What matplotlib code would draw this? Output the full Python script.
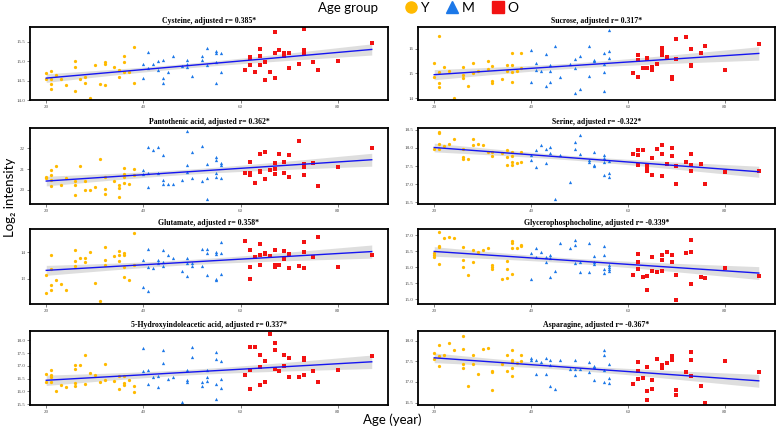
import matplotlib
matplotlib.use("Agg")
import matplotlib.pyplot as plt
from matplotlib.lines import Line2D
import numpy as np

# --- data: age and log2 intensity per metabolite ---
cys_age = [20, 20, 21, 21, 21, 21, 22, 23, 24, 26, 26, 26, 27, 28, 28, 29, 30, 31, 32, 32, 32, 34, 35, 35, 36, 36, 36, 37, 38, 38,
           40, 40, 41, 41, 42, 43, 43, 44, 44, 44, 45, 46, 48, 49, 49, 49, 50, 52, 52, 53, 53, 55, 55, 55, 55, 56, 56,
           61, 62, 62, 62, 63, 64, 64, 64, 65, 65, 66, 67, 67, 67, 68, 69, 69, 70, 70, 72, 73, 73, 73, 75, 76, 80, 87]
cys_val = [14.70, 14.53, 14.75, 14.53, 14.40, 14.28, 14.65, 14.55, 14.39, 15.00, 14.86, 14.24, 14.55, 14.60, 14.43, 14.06, 14.89, 14.42, 14.97, 14.92, 14.38, 14.85, 14.78, 14.60, 15.13, 14.97, 14.73, 14.73, 15.37, 14.43,
           14.92, 14.56, 15.24, 14.82, 14.92, 15.00, 14.78, 15.03, 14.56, 14.43, 14.73, 15.13, 14.87, 15.04, 14.93, 14.85, 14.61, 15.13, 15.04, 15.34, 14.89, 15.26, 15.21, 14.98, 14.43, 15.20, 14.73,
           14.78, 15.12, 15.07, 14.89, 14.73, 15.32, 15.14, 14.89, 14.99, 14.52, 14.73, 15.74, 15.20, 14.56, 15.29, 15.21, 15.14, 15.20, 14.83, 14.94, 15.82, 15.30, 15.20, 14.97, 14.78, 15.00, 15.47]

suc_age = [20, 20, 21, 21, 21, 21, 22, 23, 24, 26, 26, 26, 27, 28, 28, 29, 31, 31, 32, 32, 32, 34, 35, 35, 36, 36, 36, 36, 37, 38, 38,
           40, 40, 41, 41, 42, 43, 43, 44, 44, 44, 45, 46, 48, 49, 49, 49, 50, 50, 52, 52, 53, 53, 55, 55, 55, 55, 56, 56, 56,
           61, 62, 62, 62, 63, 64, 64, 64, 65, 65, 66, 67, 67, 67, 68, 69, 69, 70, 70, 72, 73, 73, 73, 75, 76, 80, 87]
suc_val = [15.43, 14.84, 16.49, 15.07, 14.60, 14.44, 15.24, 15.09, 14.03, 15.27, 14.95, 14.83, 14.49, 15.43, 15.00, 15.09, 15.49, 15.16, 15.31, 14.71, 14.60, 14.76, 15.33, 15.09, 15.84, 15.33, 15.07, 14.65, 15.09, 15.83, 15.20,
           15.96, 14.64, 15.44, 15.13, 15.09, 15.80, 14.51, 15.33, 15.11, 14.64, 16.12, 14.87, 15.37, 15.60, 15.20, 14.20, 15.71, 14.36, 16.12, 14.89, 15.56, 15.49, 15.83, 15.37, 15.04, 14.31, 16.76, 15.91, 15.64,
           15.00, 15.73, 15.56, 14.87, 15.20, 15.63, 15.57, 15.23, 15.27, 15.13, 15.36, 16.04, 15.91, 15.73, 15.67, 14.77, 14.84, 16.37, 15.60, 16.47, 16.00, 15.33, 15.29, 15.84, 16.09, 15.13, 16.20]

pan_age = [20, 20, 21, 21, 21, 21, 22, 23, 24, 26, 26, 26, 27, 28, 28, 29, 30, 31, 32, 32, 32, 34, 35, 35, 35, 36, 36, 36, 36, 37, 38, 38,
           40, 40, 41, 41, 41, 42, 43, 43, 44, 44, 44, 45, 46, 48, 49, 49, 49, 50, 50, 52, 52, 53, 53, 53, 55, 55, 55, 55, 56, 56, 56,
           61, 62, 62, 62, 63, 64, 64, 64, 65, 65, 66, 67, 67, 67, 68, 69, 69, 70, 70, 72, 73, 73, 73, 75, 76, 80, 87]
pan_val = [20.64, 20.56, 20.96, 20.72, 20.48, 20.19, 21.15, 20.24, 20.59, 20.40, 20.24, 19.73, 21.17, 20.40, 20.00, 20.00, 20.11, 21.49, 20.61, 20.05, 19.79, 20.43, 20.21, 20.08, 19.63, 21.07, 20.75, 20.64, 20.32, 20.30, 21.00, 20.72,
           20.96, 20.75, 22.05, 20.80, 20.11, 21.92, 22.05, 20.80, 21.68, 20.48, 20.27, 20.27, 20.27, 20.45, 22.83, 21.20, 20.88, 21.84, 20.56, 22.13, 20.40, 21.25, 20.59, 19.57, 21.60, 21.42, 20.80, 20.64, 21.28, 21.20, 20.56,
           20.80, 21.36, 20.80, 20.72, 20.35, 21.71, 20.93, 20.85, 21.84, 20.50, 20.96, 21.28, 21.00, 20.75, 21.74, 21.33, 20.83, 21.68, 20.62, 22.35, 21.23, 21.10, 20.72, 21.28, 20.16, 21.10, 22.00]

ser_age = [20, 21, 21, 21, 21, 22, 23, 24, 26, 26, 26, 27, 28, 28, 29, 30, 31, 32, 32, 34, 35, 35, 35, 36, 36, 36, 36, 37, 38, 38,
           40, 40, 41, 41, 42, 43, 43, 44, 44, 45, 46, 48, 49, 49, 50, 50, 52, 52, 53, 53, 53, 55, 55, 55, 55, 56, 56, 56,
           61, 62, 62, 62, 63, 64, 64, 64, 64, 65, 65, 66, 67, 67, 67, 68, 69, 69, 70, 70, 72, 73, 73, 73, 75, 76, 80, 87]
ser_val = [17.96, 18.45, 18.42, 18.10, 17.96, 18.05, 18.12, 18.25, 17.98, 17.74, 17.68, 17.68, 18.25, 18.07, 18.10, 18.07, 17.89, 17.89, 17.78, 17.86, 17.94, 17.74, 17.53, 17.89, 17.77, 17.62, 17.52, 17.59, 17.62, 17.89,
           17.80, 17.66, 17.95, 17.48, 18.09, 17.98, 17.57, 18.03, 17.87, 16.60, 17.80, 17.05, 18.15, 17.96, 18.36, 17.82, 17.66, 17.62, 17.89, 17.53, 17.50, 17.80, 17.71, 17.62, 17.25, 17.64, 17.30, 17.19,
           17.82, 17.95, 17.80, 17.53, 17.95, 17.50, 17.44, 17.37, 17.35, 17.71, 17.25, 17.98, 18.09, 17.82, 17.21, 17.55, 18.00, 17.78, 17.50, 17.00, 17.60, 17.82, 17.53, 17.37, 17.55, 17.00, 17.33, 17.35]

glu_age = [20, 20, 21, 21, 21, 21, 22, 23, 24, 26, 26, 26, 27, 28, 28, 29, 30, 31, 32, 32, 32, 34, 35, 35, 35, 36, 36, 36, 36, 37, 38, 38,
           40, 40, 41, 41, 41, 42, 43, 43, 44, 44, 44, 45, 46, 48, 49, 49, 49, 50, 50, 52, 52, 53, 53, 53, 55, 55, 55, 55, 56, 56, 56,
           61, 62, 62, 62, 63, 64, 64, 64, 65, 65, 66, 67, 67, 67, 68, 69, 69, 70, 70, 72, 73, 73, 73, 75, 76, 80, 87]
glu_val = [13.15, 12.46, 13.90, 13.38, 12.78, 12.59, 12.96, 12.81, 12.59, 14.09, 13.68, 13.50, 13.78, 13.80, 13.63, 14.00, 12.84, 12.18, 14.21, 13.71, 13.53, 13.84, 14.05, 13.88, 13.68, 13.96, 13.88, 13.46, 13.06, 12.96, 14.74, 13.53,
           13.71, 12.68, 14.11, 13.46, 12.55, 13.40, 13.71, 13.59, 14.09, 13.65, 13.49, 13.88, 13.80, 13.28, 13.78, 13.59, 13.11, 13.59, 13.50, 14.13, 13.50, 14.13, 13.96, 13.15, 14.00, 13.94, 12.96, 13.00, 14.38, 13.96, 13.18,
           14.43, 14.09, 13.46, 13.00, 13.81, 14.30, 13.90, 13.53, 13.96, 13.93, 13.84, 14.09, 13.53, 13.46, 13.53, 14.03, 13.75, 13.93, 13.40, 13.49, 14.38, 14.00, 13.40, 13.81, 14.56, 13.44, 13.90]

gpc_age = [20, 20, 20, 21, 21, 21, 21, 22, 23, 24, 26, 26, 26, 27, 28, 28, 29, 30, 31, 32, 32, 32, 34, 35, 35, 35, 36, 36, 36, 36, 37, 38, 38,
           40, 40, 41, 41, 42, 43, 43, 44, 44, 44, 45, 46, 48, 49, 49, 49, 50, 50, 52, 52, 53, 53, 53, 55, 55, 55, 55, 56, 56, 56, 56,
           61, 62, 62, 62, 63, 64, 64, 65, 65, 66, 67, 67, 67, 68, 69, 69, 70, 70, 72, 73, 73, 73, 75, 76, 80, 87]
gpc_val = [16.43, 16.38, 16.32, 17.10, 16.67, 16.64, 16.11, 16.90, 16.95, 16.91, 16.64, 16.22, 16.02, 15.76, 16.54, 16.17, 16.49, 16.54, 16.61, 16.06, 16.01, 15.96, 15.65, 16.20, 15.94, 15.66, 16.82, 16.77, 16.59, 15.78, 16.59, 16.69, 16.65,
           16.43, 15.65, 16.59, 16.32, 16.49, 16.32, 16.15, 16.39, 16.28, 15.71, 15.89, 16.74, 16.59, 16.85, 16.70, 16.13, 16.17, 15.86, 16.77, 15.85, 16.35, 16.18, 16.09, 16.65, 16.39, 15.96, 15.83, 16.06, 16.02, 15.96, 15.90,
           15.75, 16.41, 16.17, 15.94, 15.70, 15.73, 15.31, 16.32, 15.90, 15.86, 16.39, 16.22, 15.89, 16.46, 16.38, 16.15, 15.76, 14.98, 16.43, 16.84, 16.46, 15.47, 15.71, 15.66, 15.99, 15.73]

hia_age = [20, 20, 21, 21, 21, 21, 22, 23, 24, 26, 26, 26, 26, 27, 28, 28, 29, 30, 31, 32, 32, 34, 35, 35, 36, 36, 36, 37, 38, 38,
           40, 40, 41, 41, 42, 43, 43, 44, 44, 45, 46, 48, 49, 49, 49, 50, 50, 52, 52, 53, 53, 53, 55, 55, 55, 55, 56, 56, 56,
           61, 62, 62, 62, 63, 64, 64, 64, 65, 65, 66, 67, 67, 67, 68, 69, 69, 70, 70, 72, 73, 73, 73, 75, 76, 80, 87]
hia_val = [16.68, 16.37, 16.86, 16.66, 16.55, 16.37, 16.03, 16.24, 16.16, 17.05, 16.89, 16.33, 16.20, 17.03, 17.41, 16.30, 16.72, 16.66, 16.36, 17.09, 16.46, 16.42, 16.59, 16.08, 16.62, 16.33, 16.24, 16.46, 16.22, 15.97,
           17.71, 16.79, 16.83, 16.30, 16.57, 16.59, 16.17, 17.62, 17.12, 16.50, 16.57, 15.58, 16.86, 16.46, 16.37, 17.75, 17.36, 16.37, 16.22, 16.83, 16.55, 16.42, 17.54, 17.28, 16.29, 15.70, 17.18, 16.50, 16.13,
           16.66, 17.74, 16.86, 16.09, 17.74, 17.41, 16.95, 16.26, 17.18, 16.39, 18.26, 17.91, 17.62, 16.89, 16.79, 17.42, 17.01, 17.32, 16.57, 16.57, 17.32, 17.25, 16.66, 16.82, 16.37, 16.83, 17.38]

asn_age = [20, 20, 21, 21, 21, 22, 23, 24, 26, 26, 26, 26, 27, 28, 28, 29, 30, 31, 32, 32, 32, 34, 35, 35, 36, 36, 36, 36, 36, 37, 38, 38,
           40, 40, 41, 41, 42, 43, 43, 44, 44, 44, 45, 46, 48, 49, 49, 49, 50, 52, 52, 53, 53, 53, 55, 55, 55, 55, 56, 56, 56,
           61, 62, 62, 62, 63, 64, 64, 64, 65, 65, 66, 67, 67, 68, 69, 69, 70, 70, 72, 73, 73, 73, 75, 76, 80, 87]
asn_val = [17.70, 17.56, 17.90, 17.62, 17.39, 17.66, 17.94, 17.76, 18.11, 17.80, 17.43, 17.33, 16.89, 17.64, 17.42, 17.19, 17.80, 17.83, 17.26, 17.23, 16.80, 17.43, 17.65, 17.27, 17.76, 17.52, 17.48, 17.33, 17.13, 17.46, 17.66, 17.50,
           17.57, 17.53, 17.53, 17.20, 17.48, 17.58, 17.19, 17.54, 17.40, 16.90, 16.83, 17.54, 17.32, 17.53, 17.32, 17.17, 17.32, 17.48, 17.23, 17.39, 17.36, 17.05, 17.76, 17.65, 17.29, 17.00, 17.44, 17.09, 16.98,
           16.95, 17.48, 17.26, 17.06, 17.09, 17.36, 16.77, 16.57, 17.04, 16.83, 17.56, 17.40, 17.33, 17.45, 17.62, 17.52, 16.81, 16.68, 17.24, 17.72, 17.52, 17.13, 16.91, 16.50, 17.50, 17.24]

titles = ["Cysteine, adjusted r= 0.385*", "Sucrose, adjusted r= 0.317*",
          "Pantothenic acid, adjusted r= 0.362*", "Serine, adjusted r= -0.322*",
          "Glutamate, adjusted r= 0.358*", "Glycerophosphocholine, adjusted r= -0.339*",
          "5-Hydroxyindoleacetic acid, adjusted r= 0.337*", "Asparagine, adjusted r= -0.367*"]
ages = [cys_age, suc_age, pan_age, ser_age, glu_age, gpc_age, hia_age, asn_age]
vals = [cys_val, suc_val, pan_val, ser_val, glu_val, gpc_val, hia_val, asn_val]
yticks = [[14.0, 14.5, 15.0, 15.5], [14, 15, 16], [20, 21, 22], [16.5, 17.0, 17.5, 18.0, 18.5],
          [13, 14], [15.0, 15.5, 16.0, 16.5, 17.0], [15.5, 16.0, 16.5, 17.0, 17.5, 18.0], [16.5, 17.0, 17.5, 18.0]]
ytick_labels = [["14.0", "14.5", "15.0", "15.5"], ["14", "15", "16"], ["20", "21", "22"],
                ["16.5", "17.0", "17.5", "18.0", "18.5"], ["13", "14"],
                ["15.0", "15.5", "16.0", "16.5", "17.0"], ["15.5", "16.0", "16.5", "17.0", "17.5", "18.0"],
                ["16.5", "17.0", "17.5", "18.0"]]
ylims = [(14.0, 15.88), (13.93, 16.87), (19.31, 22.99), (16.45, 18.55),
         (12.05, 14.875), (14.86, 17.19), (15.47, 18.37), (16.44, 18.23)]
xticks = [20, 40, 60, 80]

groups = ["Y", "M", "O"]
group_colors = {"Y": "#FFBA00", "M": "#1C78E8", "O": "#F21212"}
group_markers = {"Y": "o", "M": "^", "O": "s"}


def age_group(a):
    if a < 40:
        return "Y"
    if a < 60:
        return "M"
    return "O"


W, H = 777, 430
fig = plt.figure(figsize=(W / 100, H / 100), dpi=100)

col_x = [30, 418]
col_w = [358, 357]
row_y = [(27, 100), (128, 204), (229, 304), (331, 405)]

for i in range(8):
    r, c = i // 2, i % 2
    top, bot = row_y[r]
    ax = fig.add_axes([col_x[c] / W, 1 - bot / H, col_w[c] / W, (bot - top) / H])
    x = np.array(ages[i], dtype=float)
    y = np.array(vals[i], dtype=float)

    # linear fit with 95% confidence band
    b1, b0 = np.polyfit(x, y, 1)
    n = len(x)
    resid = y - (b0 + b1 * x)
    s = np.sqrt(np.sum(resid ** 2) / (n - 2))
    xs = np.linspace(x.min(), x.max(), 80)
    se = s * np.sqrt(1 / n + (xs - x.mean()) ** 2 / np.sum((x - x.mean()) ** 2))
    fit = b0 + b1 * xs
    ax.fill_between(xs, fit - 1.99 * se, fit + 1.99 * se, color="#BEBEBE", alpha=0.5, lw=0, zorder=1)

    g = np.array([age_group(a) for a in x])
    for k in groups:
        m = g == k
        ax.scatter(x[m], y[m], s=5.5, marker=group_markers[k], color=group_colors[k], lw=0, zorder=2)
    ax.plot(xs, fit, color="#1515F0", lw=1.0, zorder=3)

    ax.set_xlim(16.65, 90.35)
    ax.set_ylim(*ylims[i])
    ax.set_xticks(xticks)
    ax.set_yticks(yticks[i])
    ax.set_yticklabels(ytick_labels[i])
    ax.tick_params(labelsize=3.6, colors="#4D4D4D", length=2, width=0.5, pad=1.5,
                   labelfontfamily="Liberation Serif")
    for sp in ax.spines.values():
        sp.set_linewidth(1.3)
        sp.set_color("black")
    ax.set_title(titles[i], fontsize=5.6, fontweight="bold", family="Liberation Serif", pad=3)

fig.text(318 / W, 1 - 8 / H, "Age group", fontsize=9.5, family="Lato", va="center", ha="left")
handles = [Line2D([], [], ls="", marker=group_markers[k], color=group_colors[k], markersize=8) for k in groups]
fig.legend(handles, groups, loc="center left", bbox_to_anchor=(396 / W, 1 - 8 / H), ncol=3, frameon=False,
           handletextpad=0.05, columnspacing=1.1, handlelength=1.2, prop={"family": "Lato", "size": 10}, borderpad=0)
fig.text(0.013, 1 - 197 / H, "Log₂ intensity", rotation=90, fontsize=9.5,
         family=["Lato", "DejaVu Sans"], va="center", ha="center")
fig.text(392 / W, 1 - 420 / H, "Age (year)", fontsize=9.5, family="Lato", va="center", ha="center")

fig.savefig("out.png", dpi=100)
